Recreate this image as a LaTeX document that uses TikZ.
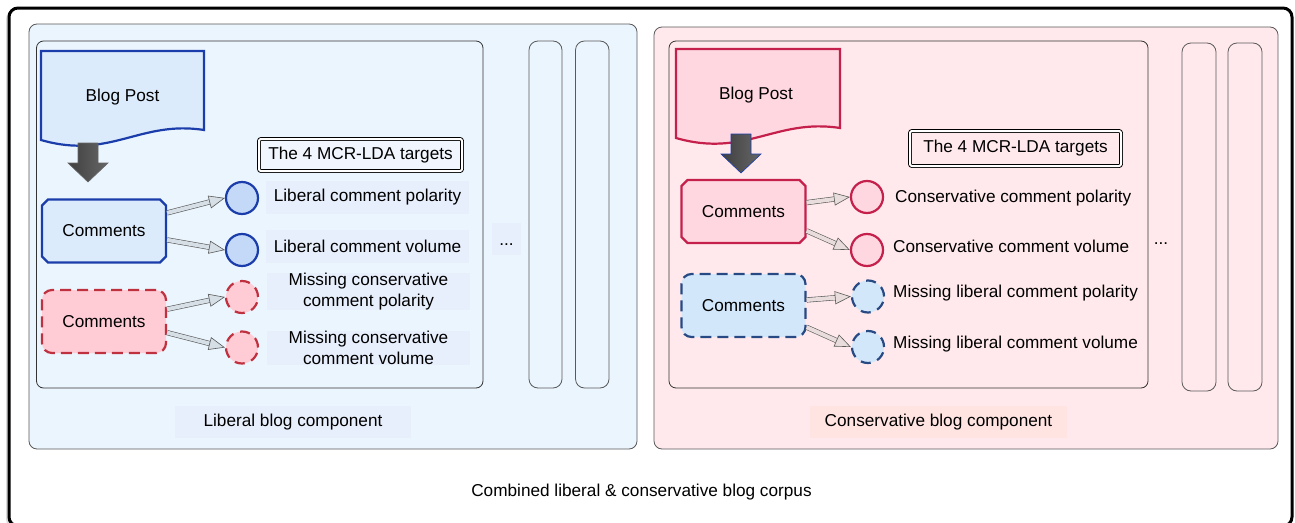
\documentclass[tikz,border=0pt]{standalone}
\usepackage{fontspec}
\setmainfont{Liberation Sans}
\usetikzlibrary{shapes.misc, arrows.meta, calc, shadows}

\definecolor{lpanel}{HTML}{EBF5FE}
\definecolor{llabel}{HTML}{E8EFFC}
\definecolor{rpanel}{HTML}{FFE9EC}
\definecolor{rlabel}{HTML}{FFE4E2}
\definecolor{lblue}{HTML}{1B3DAB}
\definecolor{lfill}{HTML}{DCEBFB}
\definecolor{lcirc}{HTML}{C3D9F7}
\definecolor{rred}{HTML}{C4204B}
\definecolor{rfill}{HTML}{FFD7E0}
\definecolor{dred}{HTML}{C0313F}
\definecolor{dpink}{HTML}{FFCCD6}
\definecolor{dblue}{HTML}{284A84}
\definecolor{dfill}{HTML}{D2E7FA}
\definecolor{arrline}{HTML}{5A5A5A}
\definecolor{lgrey}{HTML}{D6DEE6}
\definecolor{rgrey}{HTML}{E8DCDC}

\tikzstyle{panel} = [draw=black!65, line width=0.8pt, rounded corners=8pt]
\tikzstyle{innerbox} = [draw=black!80, line width=0.8pt, rounded corners=7pt]
\tikzstyle{column} = [draw=black!65, line width=0.8pt, rounded corners=9pt]
\tikzstyle{post} = [line width=2.2pt]
\tikzstyle{blockarrow} = [left color=black!75, middle color=black!40, right color=black!60, line width=0.6pt]
\tikzstyle{comments} = [chamfered rectangle, chamfered rectangle xsep=3pt, chamfered rectangle ysep=3pt, minimum width=124pt, minimum height=63pt, line width=2.2pt, inner sep=0pt]
\tikzstyle{missing} = [rectangle, rounded corners=10pt, dash pattern=on 11pt off 6pt, minimum width=124pt, minimum height=63pt, line width=2.2pt, inner sep=0pt]
\tikzstyle{target} = [circle, minimum size=32pt, inner sep=0pt, line width=2.2pt]
\tikzstyle{gap} = [dash pattern=on 10pt off 7pt]
\tikzstyle{tlabel} = [minimum width=203pt, minimum height=33pt, inner sep=0pt, align=center]
\tikzstyle{rlabeltext} = [anchor=west, inner sep=0pt]
\tikzstyle{mcr} = [draw, double=white, double distance=2pt, line width=0.9pt, rounded corners=2pt, minimum width=203pt, minimum height=32pt, inner sep=0pt]
\tikzstyle{dots} = [minimum width=29pt, minimum height=32pt, inner sep=0pt, text height=12pt, text depth=0pt]
\tikzstyle{component} = [minimum height=32pt, inner sep=0pt]
\tikzset{fat/.style={draw=arrline, line width=0.6pt, double=#1, double distance=4pt, -{Triangle[length=16pt, width=13pt, line width=0.6pt, fill=#1]}}}

\begin{document}
\begin{tikzpicture}[x=1pt, y=-1pt, font=\fontsize{17.2}{21}\selectfont]
	\useasboundingbox (0,0) rectangle (1295,522);
	% corpus frame and the two blog components
	\draw[line width=3pt, rounded corners=9pt, fill=white, drop shadow={shadow xshift=-3pt, shadow yshift=-2pt, opacity=0.3}] (9,8) rectangle (1292,526);
	\draw[panel, fill=lpanel] (29,24) rectangle (637,449);
	\draw[panel, fill=rpanel] (654,27) rectangle (1278,449);
	\draw[innerbox] (36.5,41) rectangle (483,388);
	\draw[innerbox] (669,41) rectangle (1148,388);
	\draw[column] (529,41) rectangle (562,388);
	\draw[column] (575.5,41) rectangle (609,388);
	\draw[column] (1182,43) rectangle (1216,391);
	\draw[column] (1228,43) rectangle (1262,391);
	
	% liberal blog
	\coordinate (lpost) at (122.5,95.5);
	\draw[post, draw=lblue, fill=lfill] ($(lpost)+(-81.5,-44.5)$) -- ($(lpost)+(81.5,-44.5)$) -- ($(lpost)+(81.5,34.5)$) .. controls ($(lpost)+(17.5,24.5)$) and ($(lpost)+(-12.5,64.5)$) .. ($(lpost)+(-81.5,44.5)$) -- cycle;
	\node (lblog) at ($(lpost)+(0,2)$) {Blog Post};
	\coordinate (larr) at ($(lpost)+(-34.5,67)$);
	\shadedraw[blockarrow, draw=black!60] (larr) ++(-10,-19.5) -- ++(20,0) -- ++(0,20) -- ++(10,0) -- ++(-20,19) -- ++(-20,-19) -- ++(10,0) -- cycle;
	
	\node (lcm) [comments, draw=lblue, fill=lfill] at (104,231) {Comments};
	\node (lmc) [missing, draw=dred, fill=dpink] at ($(lcm)+(0,90.5)$) {Comments};
	
	\node (lpol) [target, draw=lblue, fill=lcirc] at (242,198) {};
	\node (lvol) [target, draw=lblue, fill=lcirc] at ($(lpol)+(0,52)$) {};
	\node (lmpol) [target, gap, draw=dred, fill=dpink] at ($(lpol)+(0,99)$) {};
	\node (lmvol) [target, gap, draw=dred, fill=dpink] at ($(lpol)+(0,149.5)$) {};
	
	\node (ltargets) [mcr, fill=llabel!60!white] at (360.5,155) {The 4 MCR-LDA targets};
	\node (lpoltext) [tlabel, fill=llabel] at (367.5,197) {Liberal comment polarity};
	\node (lvoltext) [tlabel, fill=llabel] at ($(lpoltext)+(0,49)$) {Liberal comment volume};
	\node (lmpoltext) [tlabel, fill=llabel] at (368.5,291.5) {Missing conservative\\comment polarity};
	\node (lmvoltext) [tlabel, fill=llabel] at ($(lmpoltext)+(0,56.5)$) {Missing conservative\\comment volume};
	\node (ldots) [dots, fill=llabel] at (506.5,239) {...};
	\node (lcomp) [component, fill=llabel, minimum width=236pt] at (293,422) {Liberal blog component};
	
	\draw[fat=lgrey] (lcm.16) -- (lpol.west);
	\draw[fat=lgrey] (lcm.-8) -- (lvol.west);
	\draw[fat=lgrey] (lmc.11) -- (lmpol.west);
	\draw[fat=lgrey] (lmc.-10) -- (lmvol.west);
	
	% conservative blog
	\coordinate (rpost) at (758,93.5);
	\draw[post, draw=rred, fill=rfill] ($(rpost)+(-82,-44.5)$) -- ($(rpost)+(82,-44.5)$) -- ($(rpost)+(82,34.5)$) .. controls ($(rpost)+(17.5,24.5)$) and ($(rpost)+(-12.5,64.5)$) .. ($(rpost)+(-82,44.5)$) -- cycle;
	\node (rblog) at ($(rpost)+(-2,2)$) {Blog Post};
	\coordinate (rarr) at ($(rpost)+(-17,60)$);
	\shadedraw[blockarrow, draw=lblue] (rarr) ++(-10,-19.5) -- ++(20,0) -- ++(0,20) -- ++(10,0) -- ++(-20,19) -- ++(-20,-19) -- ++(10,0) -- cycle;
	
	\node (rcm) [comments, draw=rred, fill=rfill] at (743.5,211.5) {Comments};
	\node (rmc) [missing, draw=dblue, fill=dfill] at ($(rcm)+(0,94)$) {Comments};
	
	\node (rpol) [target, draw=rred, fill=rfill] at (867,197) {};
	\node (rvol) [target, draw=rred, fill=rfill] at ($(rpol)+(0,53)$) {};
	\node (rmpol) [target, gap, draw=dblue, fill=dfill] at ($(rpol)+(1,99.5)$) {};
	\node (rmvol) [target, gap, draw=dblue, fill=dfill] at ($(rpol)+(1,150)$) {};
	
	\node (rtargets) [mcr, fill=rpanel, minimum width=211pt, minimum height=35pt] at (1015.5,148.5) {The 4 MCR-LDA targets};
	\node (rpoltext) [rlabeltext] at (895,198) {Conservative comment polarity};
	\node (rvoltext) [rlabeltext] at (893,246.5) {Conservative comment volume};
	\node (rmpoltext) [rlabeltext] at (893,293) {Missing liberal comment polarity};
	\node (rmvoltext) [rlabeltext] at (893,344.5) {Missing liberal comment volume};
	\node (rdots) [dots] at (1161,238) {...};
	\node (rcomp) [component, fill=rlabel, minimum width=257pt] at (938.5,422) {Conservative blog component};
	
	\draw[fat=rgrey] (rcm.8) -- (rpol.west);
	\draw[fat=rgrey] (rcm.-17) -- (rvol.west);
	\draw[fat=rgrey] (rmc.5) -- (rmpol.west);
	\draw[fat=rgrey] (rmc.-19) -- (rmvol.west);
	
	\node (corpus) at (641.5,492) {Combined liberal \& conservative blog corpus};
\end{tikzpicture}
\end{document}
